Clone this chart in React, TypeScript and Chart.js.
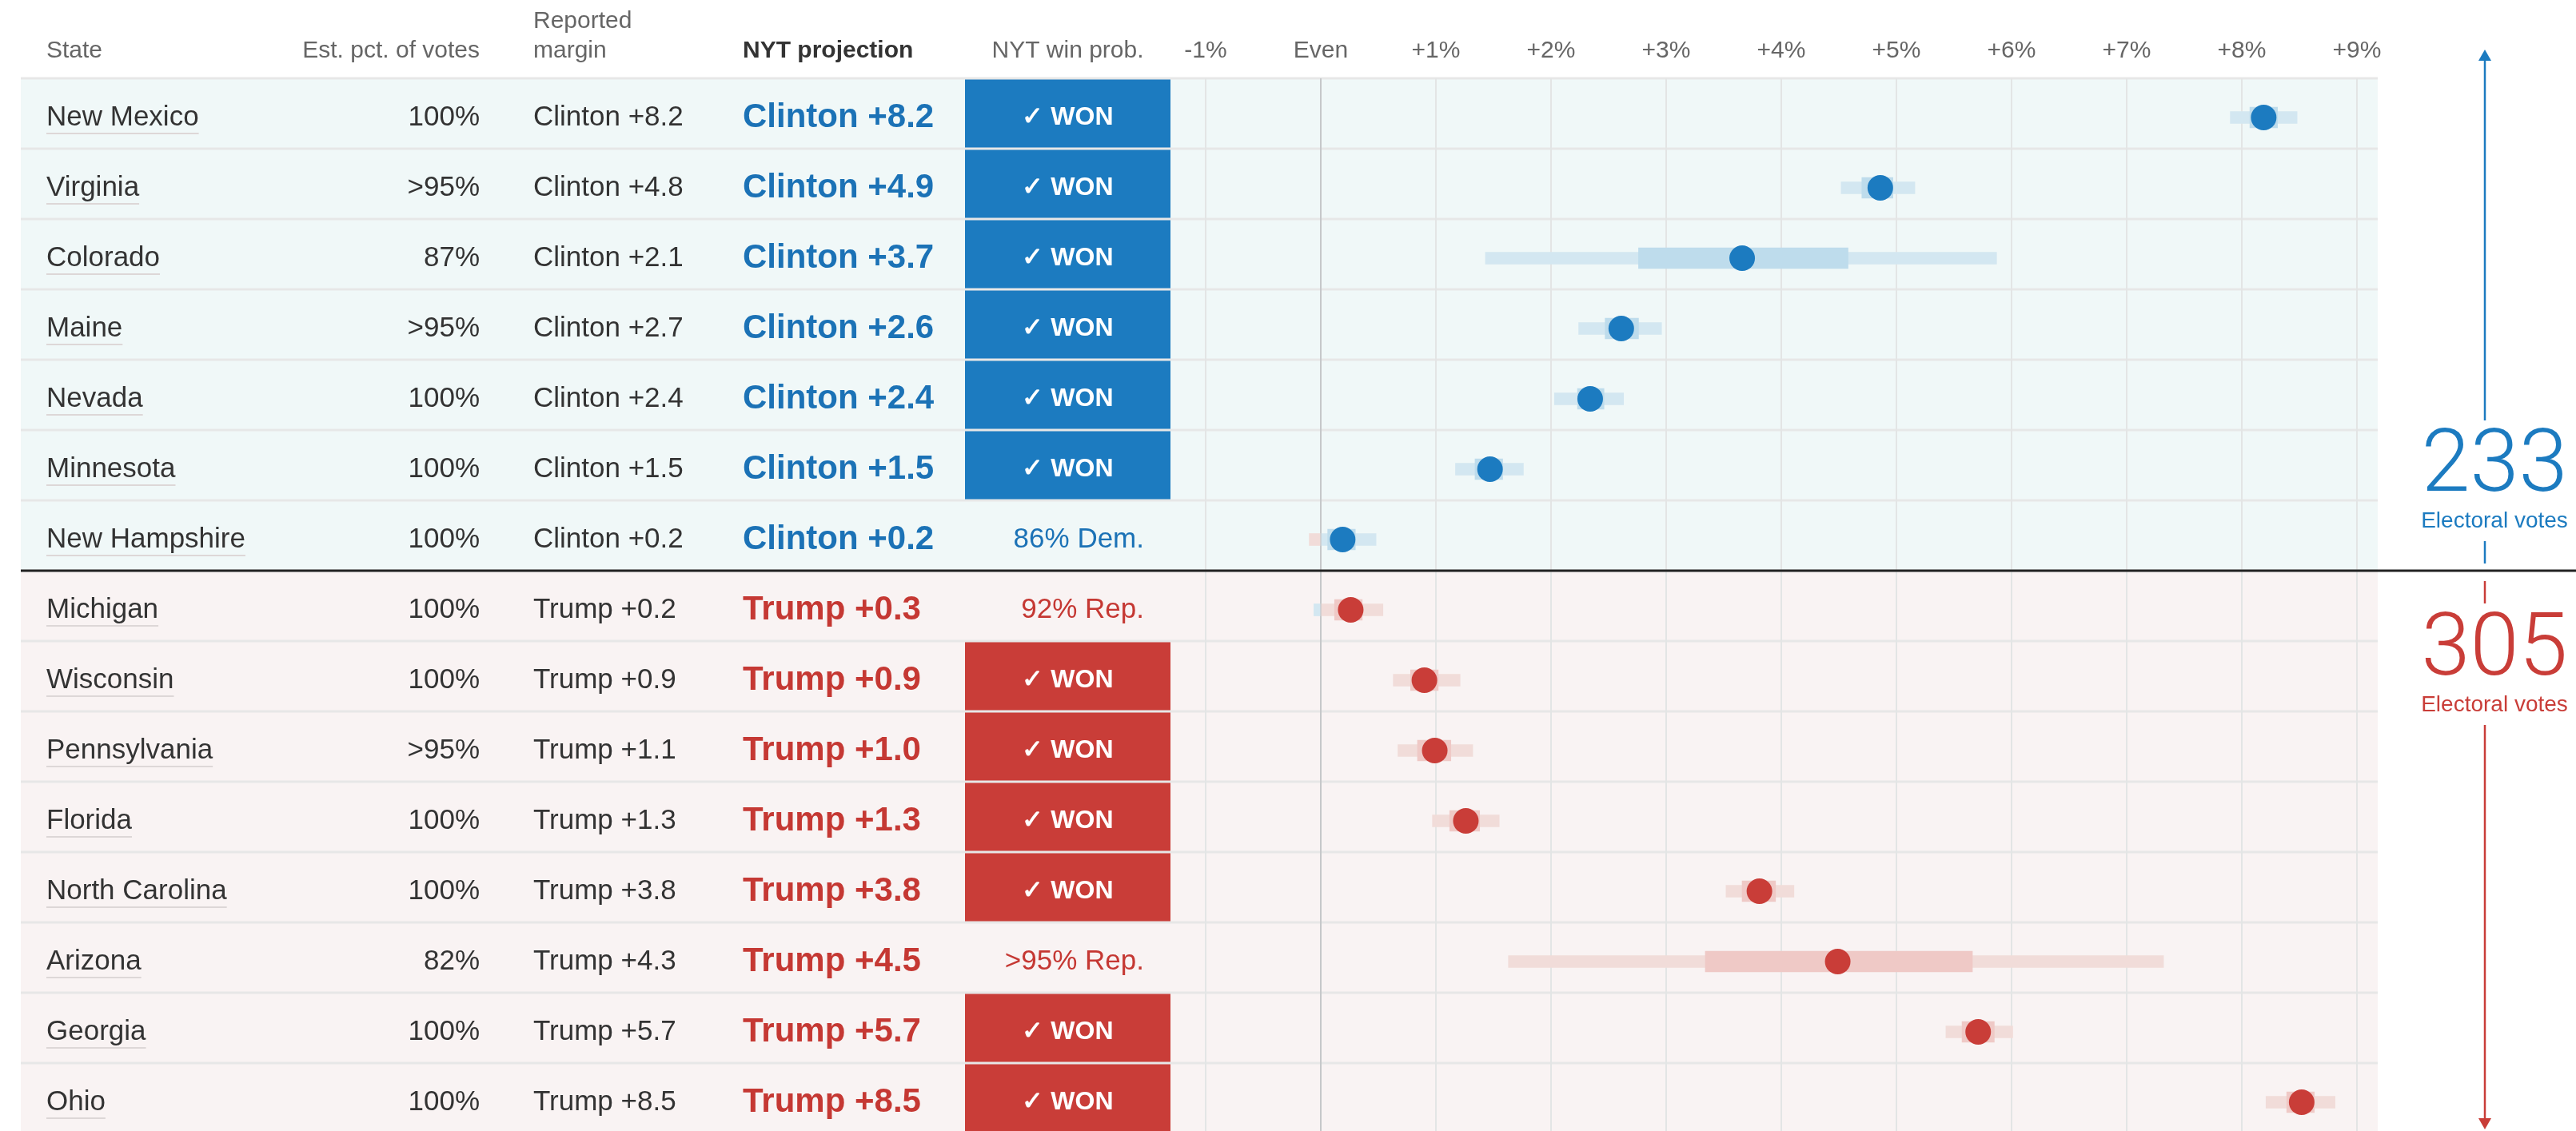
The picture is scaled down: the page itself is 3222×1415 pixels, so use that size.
import React, { useEffect, useRef } from 'react';
import { Chart, registerables } from 'chart.js';

Chart.register(...registerables);

// ---------------- DATA ----------------
const states = [
  'New Mexico', 'Virginia', 'Colorado', 'Maine', 'Nevada', 'Minnesota', 'New Hampshire',
  'Michigan', 'Wisconsin', 'Pennsylvania', 'Florida', 'North Carolina', 'Arizona', 'Georgia', 'Ohio',
];
const votePct = ['100%', '>95%', '87%', '>95%', '100%', '100%', '100%', '100%', '100%', '>95%', '100%', '100%', '82%', '100%', '100%'];
const leader = ['Clinton', 'Clinton', 'Clinton', 'Clinton', 'Clinton', 'Clinton', 'Clinton',
  'Trump', 'Trump', 'Trump', 'Trump', 'Trump', 'Trump', 'Trump', 'Trump'];
const reportedMargin = ['+8.2', '+4.8', '+2.1', '+2.7', '+2.4', '+1.5', '+0.2', '+0.2', '+0.9', '+1.1', '+1.3', '+3.8', '+4.3', '+5.7', '+8.5'];
const projectedMargin = ['+8.2', '+4.9', '+3.7', '+2.6', '+2.4', '+1.5', '+0.2', '+0.3', '+0.9', '+1.0', '+1.3', '+3.8', '+4.5', '+5.7', '+8.5'];
const winProb = ['WON', 'WON', 'WON', 'WON', 'WON', 'WON', '86% Dem.', '92% Rep.', 'WON', 'WON', 'WON', 'WON', '>95% Rep.', 'WON', 'WON'];
const dotValue = [8.19, 4.86, 3.66, 2.61, 2.34, 1.47, 0.19, 0.26, 0.9, 0.99, 1.26, 3.81, 4.49, 5.71, 8.52];
const innerLow = [8.07, 4.7, 2.76, 2.47, 2.23, 1.34, 0.06, 0.12, 0.78, 0.84, 1.12, 3.66, 3.34, 5.57, 8.39];
const innerHigh = [8.31, 4.97, 4.58, 2.76, 2.46, 1.58, 0.3, 0.36, 1.02, 1.13, 1.38, 3.95, 5.66, 5.85, 8.63];
const outerLow = [7.9, 4.52, 1.43, 2.24, 2.03, 1.17, -0.1, -0.06, 0.63, 0.67, 0.97, 3.52, 1.63, 5.43, 8.21];
const outerHigh = [8.48, 5.16, 5.87, 2.96, 2.63, 1.76, 0.48, 0.54, 1.21, 1.32, 1.55, 4.11, 7.32, 6.01, 8.81];
const headerLabels = ['State', 'Est. pct. of votes', 'Reported', 'margin', 'NYT projection', 'NYT win prob.'];
const electoralTotals = ['233', '305'];
const electoralLabel = 'Electoral votes';
const wonLabel = '\u2713 WON';

// ---------------- LAYOUT / STYLE ----------------
const W = 3222;
const H = 1415;
const TOP = 98;
const ROW_H = 88;
const CONTENT_OFFSET = 49;
const TABLE_LEFT = 26;
const TABLE_RIGHT = 2974;
const CHART_LEFT = 1464;
const X_MIN = -1 - 44 / 144;
const X_MAX = 9 + 26 / 144;
const Y_MIN = -CONTENT_OFFSET / ROW_H;
const Y_MAX = Y_MIN + (H - TOP) / ROW_H;

const COL_STATE = 58;
const COL_PCT_RIGHT = 600;
const COL_REP = 667;
const COL_PROJ = 929;
const BOX_LEFT = 1207;
const BOX_W = CHART_LEFT - BOX_LEFT;
const BOX_CENTER = BOX_LEFT + BOX_W / 2;
const PROB_RIGHT = 1431;
const HEADER_Y = 64;
const ARROW_X = 3108;
const EV_TEXT_X = 3120;

const FONT = '"Liberation Sans", Arial, Helvetica, sans-serif';
const DEM = '#1c7bc0';
const REP = '#c93d38';
const DEM_TEXT = '#1b72b6';
const REP_TEXT = '#c53833';
const DEM_BG = '#f0f8f8';
const REP_BG = '#f9f3f3';
const DEM_OUTER = '#d3e7f1';
const DEM_INNER = '#bedcec';
const REP_OUTER = '#f1dcd9';
const REP_INNER = '#efc9c6';
const SEP = '#e7e7e7';
const GRID = '#e3e5e5';
const EVEN_LINE = '#c6c8ca';
const HEADER_COLOR = '#666666';
const BODY_COLOR = '#333333';

const isDem = (i: number) => leader[i] === 'Clinton';

function tickLabel(v: number) {
  if (v === 0) return 'Even';
  return (v > 0 ? '+' : '') + v + '%';
}

function bandData(lo: number[], hi: number[], opposite: boolean) {
  const data: any[] = [];
  const colors: string[] = [];
  lo.forEach((l, i) => {
    const h = hi[i];
    if (opposite) {
      if (l < 0) {
        data.push({ y: i, x: [l, Math.min(h, 0)] });
        colors.push(isDem(i) ? 'R' : 'D');
      }
    } else {
      data.push({ y: i, x: [Math.max(l, 0), h] });
      colors.push(isDem(i) ? 'D' : 'R');
    }
  });
  return { data, colors };
}

const tablePlugin = {
  id: 'nytTable',
  beforeDraw(chart: any) {
    const { ctx } = chart;
    const ys = chart.scales.y;
    ctx.save();
    ctx.fillStyle = '#ffffff';
    ctx.fillRect(0, 0, chart.width, chart.height);
    states.forEach((_, i) => {
      const top = ys.getPixelForValue(i) - CONTENT_OFFSET;
      ctx.fillStyle = isDem(i) ? DEM_BG : REP_BG;
      ctx.fillRect(TABLE_LEFT, top, TABLE_RIGHT - TABLE_LEFT, ROW_H);
      if (winProb[i] === 'WON') {
        ctx.fillStyle = isDem(i) ? DEM : REP;
        ctx.fillRect(BOX_LEFT, top + 1, BOX_W, ROW_H - 2);
      }
    });
    ctx.fillStyle = SEP;
    for (let i = 0; i <= states.length; i++) {
      const y = ys.getPixelForValue(i) - CONTENT_OFFSET;
      ctx.fillRect(TABLE_LEFT, y - 1.5, TABLE_RIGHT - TABLE_LEFT, 3);
    }
    ctx.restore();
  },
  afterDraw(chart: any) {
    const { ctx } = chart;
    const ys = chart.scales.y;
    ctx.save();
    ctx.textBaseline = 'middle';

    // header
    ctx.fillStyle = HEADER_COLOR;
    ctx.font = `30px ${FONT}`;
    ctx.textAlign = 'left';
    ctx.fillText(headerLabels[0], COL_STATE, HEADER_Y);
    ctx.textAlign = 'right';
    ctx.fillText(headerLabels[1], COL_PCT_RIGHT, HEADER_Y);
    ctx.textAlign = 'left';
    ctx.fillText(headerLabels[2], COL_REP, HEADER_Y - 37);
    ctx.fillText(headerLabels[3], COL_REP, HEADER_Y);
    ctx.textAlign = 'center';
    ctx.fillText(headerLabels[5], BOX_CENTER, HEADER_Y);
    ctx.fillStyle = BODY_COLOR;
    ctx.font = `bold 30px ${FONT}`;
    ctx.textAlign = 'left';
    ctx.fillText(headerLabels[4], COL_PROJ, HEADER_Y);

    // rows
    states.forEach((name, i) => {
      const cy = ys.getPixelForValue(i);
      const dem = isDem(i);
      ctx.font = `35px ${FONT}`;
      ctx.fillStyle = BODY_COLOR;
      ctx.textAlign = 'left';
      ctx.fillText(name, COL_STATE, cy);
      const w = ctx.measureText(name).width;
      ctx.fillStyle = '#ddd7d7';
      ctx.fillRect(COL_STATE, cy + 19, w, 2);
      ctx.fillStyle = BODY_COLOR;
      ctx.textAlign = 'right';
      ctx.fillText(votePct[i], COL_PCT_RIGHT, cy);
      ctx.textAlign = 'left';
      ctx.fillText(`${leader[i]} ${reportedMargin[i]}`, COL_REP, cy);
      ctx.font = `bold 42px ${FONT}`;
      ctx.fillStyle = dem ? DEM_TEXT : REP_TEXT;
      ctx.fillText(`${leader[i]} ${projectedMargin[i]}`, COL_PROJ, cy);
      if (winProb[i] === 'WON') {
        ctx.font = `bold 32px ${FONT}`;
        ctx.fillStyle = '#ffffff';
        ctx.textAlign = 'center';
        ctx.fillText(wonLabel, BOX_CENTER, cy);
      } else {
        ctx.font = `35px ${FONT}`;
        ctx.fillStyle = winProb[i].indexOf('Dem') >= 0 ? DEM_TEXT : REP_TEXT;
        ctx.textAlign = 'right';
        ctx.fillText(winProb[i], PROB_RIGHT, cy);
      }
    });

    // divider between Clinton and Trump states
    let lastDem = 0;
    states.forEach((_, i) => { if (isDem(i)) lastDem = i; });
    const divY = ys.getPixelForValue(lastDem) - CONTENT_OFFSET + ROW_H;
    ctx.fillStyle = '#222222';
    ctx.fillRect(TABLE_LEFT, divY - 1.5, W - TABLE_LEFT, 3);

    // electoral vote annotations
    const drawSeg = (color: string, y1: number, y2: number) => {
      ctx.strokeStyle = color;
      ctx.lineWidth = 2.5;
      ctx.beginPath();
      ctx.moveTo(ARROW_X, y1);
      ctx.lineTo(ARROW_X, y2);
      ctx.stroke();
    };
    const drawHead = (color: string, tipY: number, dir: number) => {
      ctx.fillStyle = color;
      ctx.beginPath();
      ctx.moveTo(ARROW_X, tipY);
      ctx.lineTo(ARROW_X - 8, tipY + dir * 14);
      ctx.lineTo(ARROW_X + 8, tipY + dir * 14);
      ctx.closePath();
      ctx.fill();
    };
    // Clinton (up)
    drawSeg(DEM, 70, divY - 188);
    drawHead(DEM, 62, 1);
    ctx.textAlign = 'center';
    ctx.fillStyle = DEM;
    ctx.font = `300 110px Roboto, ${FONT}`;
    ctx.fillText(electoralTotals[0], EV_TEXT_X, divY - 128);
    ctx.font = `28px ${FONT}`;
    ctx.fillText(electoralLabel, EV_TEXT_X, divY - 62);
    drawSeg(DEM, divY - 37, divY - 9);
    // Trump (down)
    drawSeg(REP, divY + 13, divY + 41);
    ctx.fillStyle = REP;
    ctx.font = `300 110px Roboto, ${FONT}`;
    ctx.fillText(electoralTotals[1], EV_TEXT_X, divY + 102);
    ctx.font = `28px ${FONT}`;
    ctx.fillText(electoralLabel, EV_TEXT_X, divY + 168);
    drawSeg(REP, divY + 193, H - 10);
    drawHead(REP, H - 2, -1);

    ctx.restore();
  },
};

export default function App() {
  const ref = useRef<HTMLCanvasElement | null>(null);

  useEffect(() => {
    if (!ref.current) return;
    const outerMain = bandData(outerLow, outerHigh, false);
    const outerOpp = bandData(outerLow, outerHigh, true);
    const innerMain = bandData(innerLow, innerHigh, false);
    const innerOpp = bandData(innerLow, innerHigh, true);
    const col = (arr: string[], d: string, r: string) => arr.map((p) => (p === 'D' ? d : r));

    const barBase = {
      type: 'bar' as const,
      indexAxis: 'y' as const,
      grouped: false,
      borderWidth: 0,
      borderSkipped: false,
    };

    const chart = new Chart(ref.current, {
      type: 'scatter',
      data: {
        datasets: [
          {
            type: 'scatter',
            label: 'NYT projection',
            data: dotValue.map((v, i) => ({ x: v, y: i })),
            pointRadius: 16,
            pointBorderWidth: 0,
            pointBackgroundColor: dotValue.map((_, i) => (isDem(i) ? DEM : REP)),
            order: 0,
          } as any,
          {
            ...barBase,
            label: 'inner',
            data: innerMain.data,
            backgroundColor: col(innerMain.colors, DEM_INNER, REP_INNER),
            barThickness: 26,
            order: 1,
          } as any,
          {
            ...barBase,
            label: 'inner opp',
            data: innerOpp.data,
            backgroundColor: col(innerOpp.colors, DEM_INNER, REP_INNER),
            barThickness: 26,
            order: 1,
          } as any,
          {
            ...barBase,
            label: 'outer',
            data: outerMain.data,
            backgroundColor: col(outerMain.colors, DEM_OUTER, REP_OUTER),
            barThickness: 15,
            order: 2,
          } as any,
          {
            ...barBase,
            label: 'outer opp',
            data: outerOpp.data,
            backgroundColor: col(outerOpp.colors, DEM_OUTER, REP_OUTER),
            barThickness: 15,
            order: 2,
          } as any,
        ],
      },
      options: {
        responsive: false,
        animation: false,
        events: [],
        layout: { autoPadding: false, padding: { left: CHART_LEFT, right: W - TABLE_RIGHT, top: 0, bottom: 0 } },
        plugins: { legend: { display: false }, tooltip: { enabled: false } },
        scales: {
          x: {
            type: 'linear',
            position: 'top',
            min: X_MIN,
            max: X_MAX,
            offset: false,
            afterFit: (s: any) => { s.height = TOP; },
            border: { display: false },
            grid: {
              offset: false,
              drawTicks: false,
              lineWidth: 2,
              color: (c: any) => (c.tick && c.tick.value === 0 ? EVEN_LINE : GRID),
            },
            ticks: {
              stepSize: 1,
              includeBounds: false,
              autoSkip: false,
              maxRotation: 0,
              padding: 16,
              color: HEADER_COLOR,
              font: { family: FONT, size: 30 },
              callback: (v: any) => tickLabel(Number(v)),
            },
          },
          y: {
            type: 'linear',
            display: false,
            reverse: true,
            offset: false,
            grid: { offset: false },
            min: Y_MIN,
            max: Y_MAX,
          },
        },
      } as any,
      plugins: [tablePlugin],
    });
    return () => chart.destroy();
  }, []);

  return (
    <div style={{ position: 'fixed', left: 0, top: 0, width: W, height: H, background: '#fff' }}>
      <canvas ref={ref} width={W} height={H} style={{ display: 'block', width: W, height: H }} />
    </div>
  );
}
